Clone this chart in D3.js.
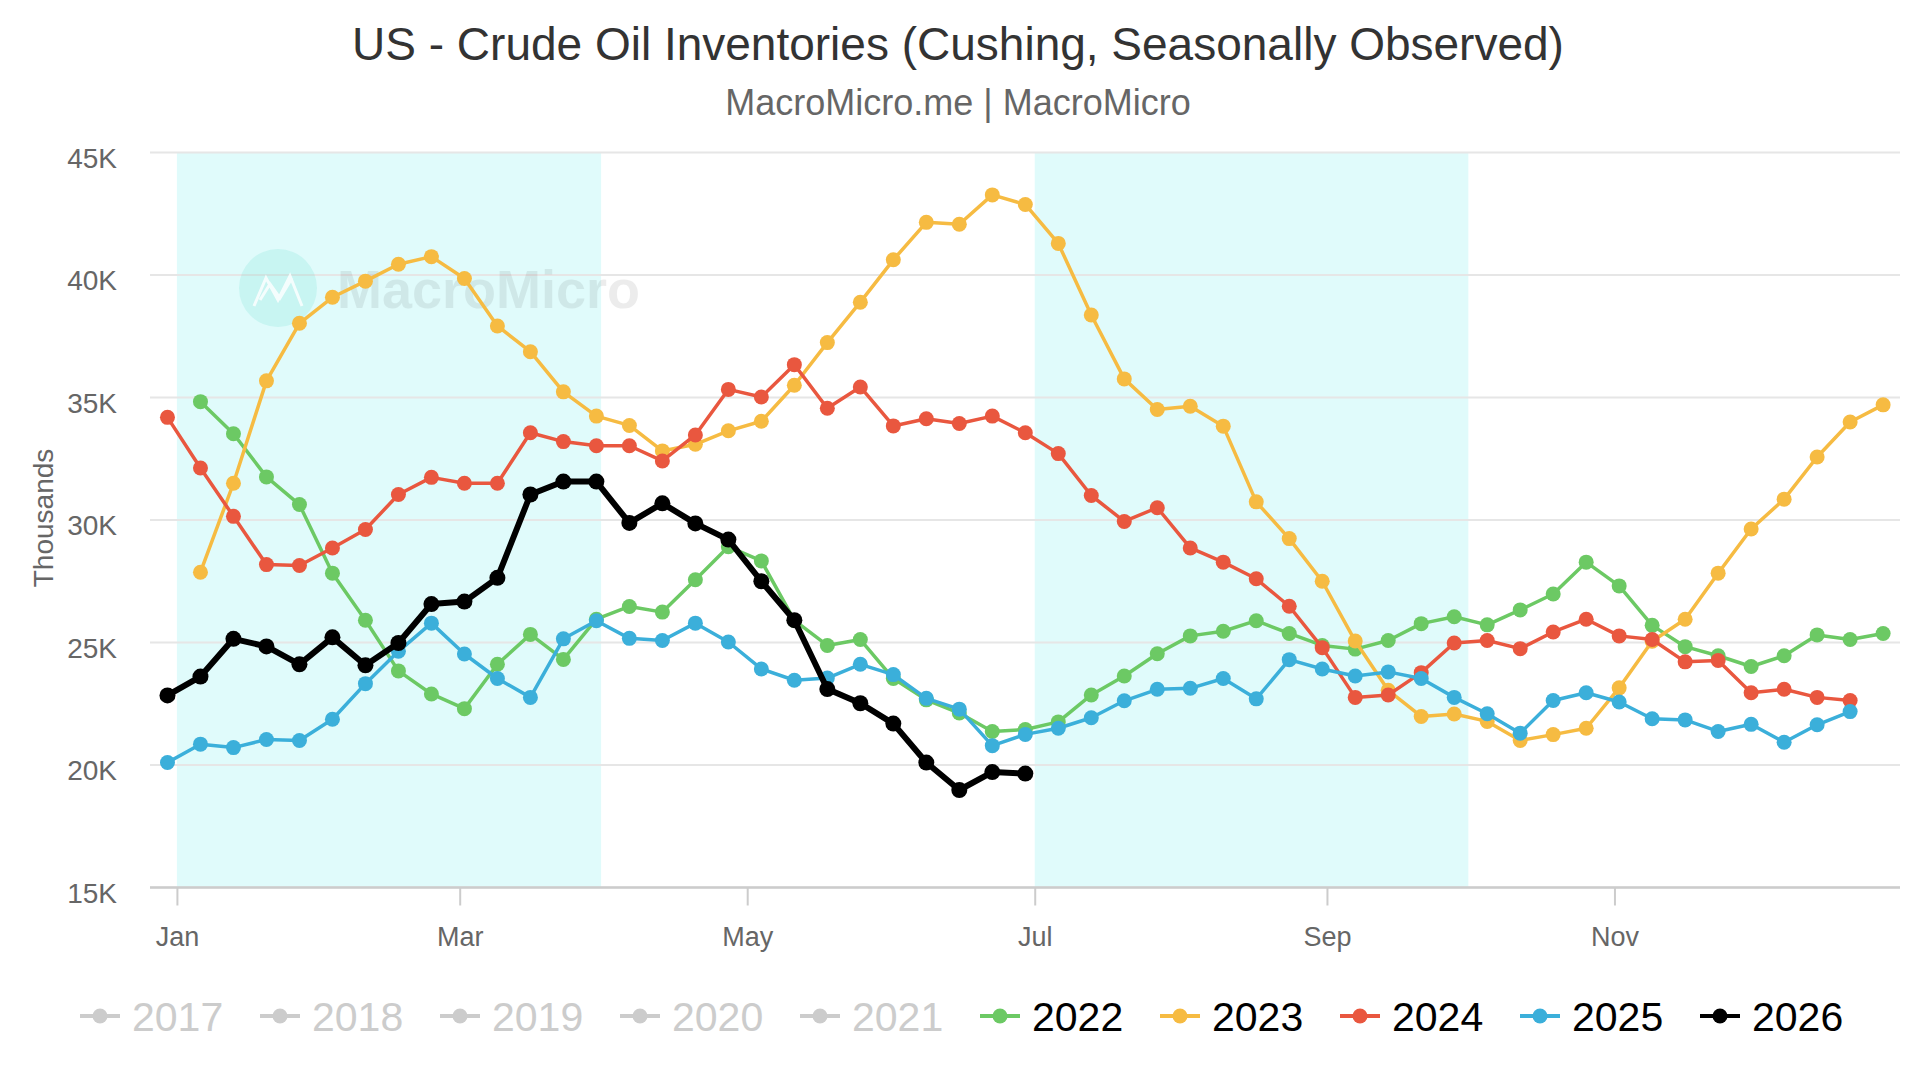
<!DOCTYPE html>
<html>
<head>
<meta charset="utf-8">
<script src="https://cdn.jsdelivr.net/npm/d3@7"></script>
<style>
  body { margin: 0; background: #fff; }
  svg { display: block; font-family: "Liberation Sans", Arial, sans-serif; }
</style>
</head>
<body>
<div id="chart"></div>
<script>
// Data: Cushing crude inventories (thousand barrels), one value per weekly slot
// slot 0 is Dec 30, then every 7 days; null = no observation
const years = [2017, 2018, 2019, 2020, 2021, 2022, 2023, 2024, 2025, 2026];
const activeYears = [2022, 2023, 2024, 2025, 2026];
const yearColors = ["#ccc", "#ccc", "#ccc", "#ccc", "#ccc", "#6cc964", "#f6bb42", "#e9573f", "#3bafda", "#000000"];

const values2022 = [null, 34830, 33520, 31760, 30630, 27830, 25910, 23840, 22900, 22300, 24110, 25330, 24310,
  25950, 26470, 26240, 27560, 28910, 28330, 25900, 24880, 25120, 23530, 22660, 22120, 21370, 21450,
  21760, 22860, 23630, 24540, 25270, 25460, 25890, 25370, 24880, 24730, 25080, 25770, 26050,
  25720, 26330, 26980, 28280, 27310, 25700, 24830, 24460, 24020, 24460, 25310, 25120, 25370];
const values2023 = [null, 27870, 31500, 35680, 38030, 39090, 39750, 40440, 40750, 39860, 37920, 36870, 35230,
  34240, 33860, 32820, 33090, 33640, 34030, 35500, 37240, 38890, 40620, 42150, 42070, 43270, 42880,
  41290, 38370, 35760, 34510, 34640, 33830, 30740, 29240, 27500, 25060, 23050, 21980, 22080,
  21780, 21000, 21240, 21500, 23150, 25050, 25950, 27830, 29630, 30850, 32570, 34000, 34700];
const values2024 = [34190, 32120, 30150, 28180, 28140, 28860, 29610, 31040, 31740, 31500, 31500, 33560, 33200,
  33030, 33030, 32410, 33470, 35330, 35020, 36340, 34560, 35430, 33840, 34130, 33940, 34240, 33560,
  32710, 31000, 29940, 30500, 28860, 28280, 27600, 26480, 24790, 22760, 22860, 23770, 24980,
  25080, 24750, 25430, 25950, 25270, 25120, 24210, 24270, 22950, 23090, 22760, 22630];
const values2025 = [20100, 20850, 20710, 21040, 21000, 21870, 23320, 24640, 25790, 24530, 23530, 22760, 25150,
  25890, 25170, 25080, 25790, 25020, 23920, 23460, 23550, 24110, 23690, 22720, 22280, 20790, 21250,
  21500, 21930, 22620, 23090, 23130, 23530, 22700, 24300, 23920, 23630, 23800, 23530, 22760,
  22090, 21300, 22630, 22950, 22570, 21890, 21840, 21370, 21660, 20930, 21640, 22180];
const values2026 = [22840, 23610, 25150, 24840, 24110, 25210, 24070, 24980, 26570, 26670, 27640, 31040, 31570,
  31570, 29880, 30680, 29860, 29200, 27500, 25910, 23100, 22520, 21690, 20100, 18980, 19710, 19650];

const seriesValues = [values2022, values2023, values2024, values2025, values2026];
const firstSlot = "2023-12-30";
const yTicks = [15000, 20000, 25000, 30000, 35000, 40000, 45000];
const monthTicks = ["2024-01-01", "2024-03-01", "2024-05-01", "2024-07-01", "2024-09-01", "2024-11-01"];
const shadedRanges = [["2024-01-01", "2024-03-31"], ["2024-07-01", "2024-10-01"]];

const parseDate = d3.utcParse("%Y-%m-%d");
const slotStart = parseDate(firstSlot);

const dataByYear = activeYears.map((year, i) => ({
  year,
  color: yearColors[years.indexOf(year)],
  values: seriesValues[i].map((v, k) => ({ date: d3.utcDay.offset(slotStart, 7 * k), value: v })),
}));

// Set up dimensions
const width = 1920;
const height = 1080;
const margin = { top: 152.5, right: 20, bottom: 192.5, left: 150 };

// Set up scales
const xScale = d3
  .scaleUtc()
  .domain([new Date(Date.UTC(2023, 11, 26, 7)), new Date(Date.UTC(2024, 11, 31, 14))])
  .range([margin.left, width - margin.right]);

const yScale = d3
  .scaleLinear()
  .domain([15000, 45000])
  .range([height - margin.bottom, margin.top]);

const line = d3
  .line()
  .defined((d) => d.value != null)
  .x((d) => xScale(d.date))
  .y((d) => yScale(d.value));

const svg = d3
  .select("#chart")
  .append("svg")
  .attr("width", width)
  .attr("height", height);

// Draw title and subtitle
svg.append("text")
  .attr("x", 958)
  .attr("y", 60)
  .attr("text-anchor", "middle")
  .attr("fill", "#333")
  .style("font-size", "46px")
  .text("US - Crude Oil Inventories (Cushing, Seasonally Observed)");

svg.append("text")
  .attr("x", 958)
  .attr("y", 115)
  .attr("text-anchor", "middle")
  .attr("fill", "#666")
  .style("font-size", "36px")
  .text("MacroMicro.me | MacroMicro");

// Draw shaded quarters
svg.append("g")
  .selectAll("rect")
  .data(shadedRanges)
  .join("rect")
  .attr("x", (d) => xScale(parseDate(d[0])))
  .attr("width", (d) => xScale(parseDate(d[1])) - xScale(parseDate(d[0])))
  .attr("y", yScale(45000))
  .attr("height", yScale(15000) - yScale(45000))
  .attr("fill", "#e0fbfb");

// Draw grid lines
svg.append("g")
  .selectAll("line")
  .data(yTicks)
  .join("line")
  .attr("x1", margin.left)
  .attr("x2", width - margin.right)
  .attr("y1", (d) => yScale(d))
  .attr("y2", (d) => yScale(d))
  .attr("stroke", "#e6e6e6")
  .attr("stroke-width", 2);

// Draw watermark
const mark = svg.append("g").attr("class", "watermark");
mark.append("circle")
  .attr("cx", 278)
  .attr("cy", 288)
  .attr("r", 39)
  .attr("fill", "#2ad1b8")
  .attr("opacity", 0.13);
mark.append("path")
  .attr("d", "M254,306 L266,278 L278,300 L290,276 L302,306 M260,300 L270,284 L280,298 L292,278")
  .attr("fill", "none")
  .attr("stroke", "#fff")
  .attr("stroke-width", 3)
  .attr("opacity", 0.8);
mark.append("text")
  .attr("x", 337)
  .attr("y", 308)
  .attr("fill", "#000")
  .attr("opacity", 0.07)
  .style("font-size", "54px")
  .style("font-weight", "bold")
  .text("MacroMicro");

// Draw y axis
const yAxisG = svg.append("g")
  .attr("transform", `translate(${margin.left},0)`)
  .call(d3.axisLeft(yScale).tickValues(yTicks).tickSize(0).tickPadding(33)
    .tickFormat((d) => `${d / 1000}K`));
yAxisG.select(".domain").remove();
yAxisG.selectAll("text")
  .attr("dy", "0.52em")
  .attr("fill", "#666")
  .style("font-size", "28px")
  .style("font-family", "Liberation Sans, Arial, sans-serif");

// Draw y axis title
svg.append("text")
  .attr("transform", "translate(53,518) rotate(-90)")
  .attr("text-anchor", "middle")
  .attr("fill", "#666")
  .style("font-size", "28px")
  .text("Thousands");

// Draw x axis
const xAxisG = svg.append("g")
  .attr("transform", `translate(0,${yScale(15000)})`)
  .call(d3.axisBottom(xScale)
    .tickValues(monthTicks.map(parseDate))
    .tickSize(18)
    .tickPadding(21)
    .tickFormat(d3.utcFormat("%b")));
xAxisG.select(".domain")
  .attr("d", `M${margin.left},0H${width - margin.right}`)
  .attr("stroke", "#ccc")
  .attr("stroke-width", 2.5);
xAxisG.selectAll(".tick line").attr("stroke", "#ccc").attr("stroke-width", 2);
xAxisG.selectAll("text")
  .attr("fill", "#666")
  .style("font-size", "27px")
  .style("font-family", "Liberation Sans, Arial, sans-serif");

// Draw year series
const yearG = svg.append("g")
  .selectAll("g")
  .data(dataByYear)
  .join("g")
  .style("color", (d) => d.color);

yearG.append("path")
  .attr("fill", "none")
  .attr("stroke", "currentColor")
  .attr("stroke-width", (d) => (d.year === 2026 ? 6 : 3.5))
  .attr("stroke-linejoin", "round")
  .attr("d", (d) => line(d.values));

yearG.selectAll("circle")
  .data((d) => d.values.filter((e) => e.value != null).map((e) => ({ ...e, year: d.year })))
  .join("circle")
  .attr("cx", (d) => xScale(d.date))
  .attr("cy", (d) => yScale(d.value))
  .attr("r", (d) => (d.year === 2026 ? 8 : 7.5))
  .attr("fill", "currentColor");

// Draw legend
const legendItem = svg.append("g")
  .selectAll("g")
  .data(years)
  .join("g")
  .attr("transform", (d, i) => `translate(${80 + 180 * i},1016)`);

legendItem.append("line")
  .attr("x1", 0)
  .attr("x2", 40)
  .attr("stroke", (d, i) => yearColors[i])
  .attr("stroke-width", 4);

legendItem.append("circle")
  .attr("cx", 20)
  .attr("r", 7.5)
  .attr("fill", (d, i) => yearColors[i]);

legendItem.append("text")
  .attr("x", 52)
  .attr("y", 15)
  .attr("fill", (d) => (activeYears.includes(d) ? "#000" : "#ccc"))
  .style("font-size", "41px")
  .text((d) => d);
</script>
</body>
</html>
